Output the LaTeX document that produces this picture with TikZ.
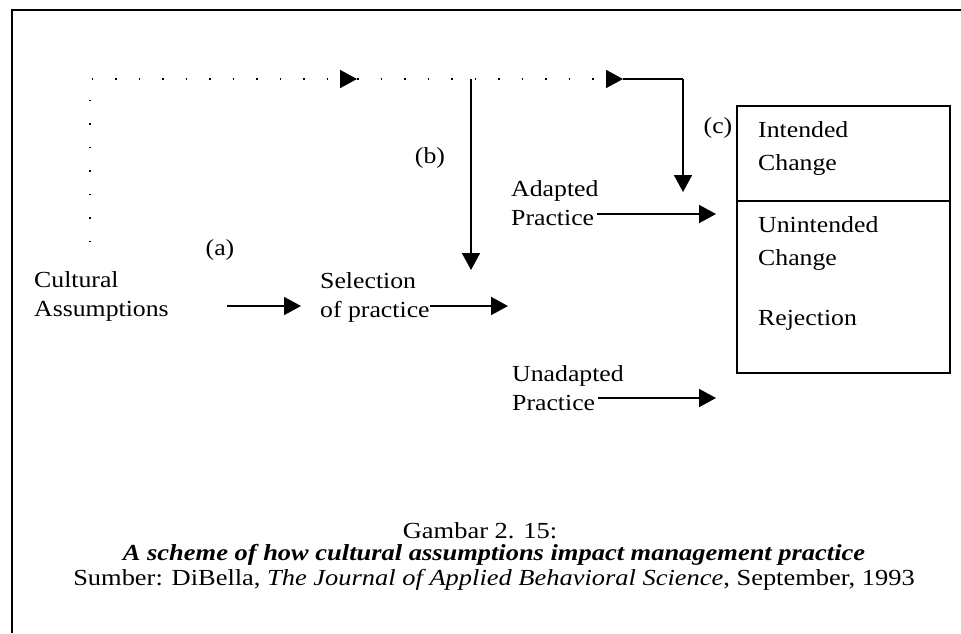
\documentclass[tikz,border=0pt]{standalone}
\usepackage{fontspec}
\setmainfont{Liberation Serif}[FakeStretch=1.12]
\newfontfamily\capfont{Liberation Serif}[FakeStretch=1.15]
\usetikzlibrary{arrows.meta}
\begin{document}
\begin{tikzpicture}[x=1pt,y=-1pt,
  lbl/.style={inner sep=0pt, align=left, font=\fontsize{23}{29}\selectfont},
  boxlbl/.style={inner sep=0pt, align=left, font=\fontsize{23}{33}\selectfont},
  arr/.style={line width=1.8pt, -{Triangle[length=17pt,width=18pt]}},
  dotline/.style={line width=1.5pt, dash pattern=on 1.5pt off 22pt},
  framestyle/.style={line width=2.5pt},
  captxt/.style={inner sep=0pt, font=\capfont\fontsize{23}{25}\selectfont}]
\useasboundingbox (0,0) rectangle (961,633);
% frame
\draw[framestyle] (12,633) -- (12,10) -- (961,10);
% text nodes
\node[lbl, anchor=west] (ca) at (34,296) {Cultural\\Assumptions};
\node[lbl] (la) at (220,250) {(a)};
\node[lbl, anchor=west] (sel) at (320,297) {Selection\\of practice};
\node[lbl] (lb) at (430,158) {(b)};
\node[lbl, anchor=west] (ad) at (511,203) {Adapted\\Practice};
\node[lbl, anchor=west] (un) at (512,388) {Unadapted\\Practice};
\node[lbl] (lc) at (718,128) {(c)};
% outcome box
\draw[line width=1.6pt] (737,106) rectangle (950,373);
\coordinate (dl) at (737,201);
\coordinate (dr) at (950,201);
\draw[line width=1.3pt] (dl) -- (dr);
\node[boxlbl, anchor=west] (ic) at (758,148) {Intended\\Change};
\node[boxlbl, anchor=west] (uc) at (758,243) {Unintended\\Change};
\node[boxlbl, anchor=west] (rj) at (758,320) {Rejection};
% coordinates of connectors
\coordinate (a1) at (227,306);
\coordinate (a2) at (301,306);
\coordinate (s1) at (430,306);
\coordinate (s2) at (508,306);
\coordinate (p1) at (597,214);
\coordinate (p2) at (716,214);
\coordinate (u1) at (598,398);
\coordinate (u2) at (716,398);
\coordinate (d0) at (90,242);
\coordinate (d1) at (90,79);
\coordinate (h1) at (357,79);
\coordinate (h1s) at (354,79);
\coordinate (h2) at (623,79);
\coordinate (h2s) at (620,79);
\coordinate (k) at (683,79);
\coordinate (k2) at (683,192);
\coordinate (b0) at (471,79);
\coordinate (b1) at (471,270);
% connectors
\draw[arr] (a1) -- (a2);
\draw[arr] (s1) -- (s2);
\draw[arr] (p1) -- (p2);
\draw[arr] (u1) -- (u2);
\draw[dotline] (d0) -- (d1) -- (h1);
\draw[dotline] (h1) -- (h2);
\draw[arr] (h1s) -- (h1);
\draw[arr] (h2s) -- (h2);
\draw[line width=1.8pt] (h2) -- (k);
\draw[arr] (k) -- (k2);
\draw[arr] (b0) -- (b1);
% caption
\node[captxt] (g) at (480,531) {Gambar 2. 15:};
\node[captxt, font=\capfont\fontsize{23}{25}\selectfont\bfseries\itshape] (t) at (494,555) {A scheme of how cultural assumptions impact management practice};
\node[captxt] (s) at (494,580) {Sumber: DiBella, \textit{The Journal of Applied Behavioral Science}, September, 1993};
\end{tikzpicture}
\end{document}
